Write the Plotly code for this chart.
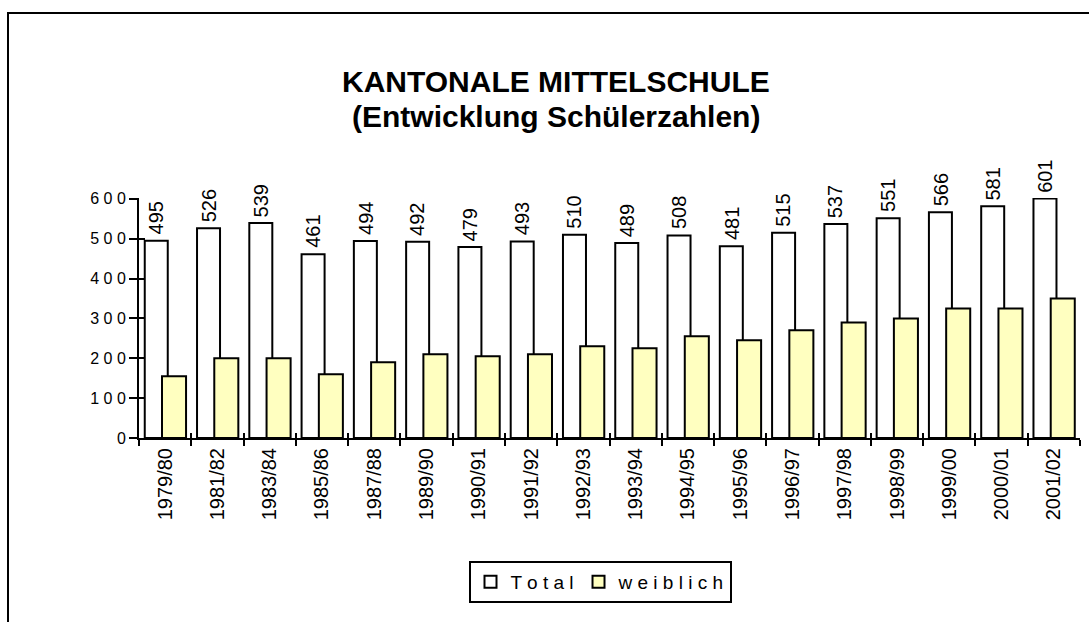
import plotly.graph_objects as go

categories = ["1979/80", "1981/82", "1983/84", "1985/86", "1987/88", "1989/90",
              "1990/91", "1991/92", "1992/93", "1993/94", "1994/95", "1995/96",
              "1996/97", "1997/98", "1998/99", "1999/00", "2000/01", "2001/02"]
total = [495, 526, 539, 461, 494, 492, 479, 493, 510, 489, 508, 481, 515, 537, 551, 566, 581, 601]
weiblich = [155, 200, 200, 160, 190, 210, 205, 210, 230, 225, 255, 245, 270, 290, 300, 325, 325, 350]
y_ticks = [0, 100, 200, 300, 400, 500, 600]
y_ticktext = ["0", "1 0 0", "2 0 0", "3 0 0", "4 0 0", "5 0 0", "6 0 0"]

W, H = 1089, 622
L, R, T, B = 139, 1080, 198, 438
FONT = "Liberation Sans, Arial, sans-serif"
n = len(categories)
cat_px = (R - L) / n
Y_MAX = 602

TOT_OFF, TOT_W = -0.39, 0.44
WEI_OFF, WEI_W = -0.06, 0.46

fig = go.Figure()
fig.add_trace(go.Bar(
    x=categories, y=total, name="T o t a l",
    marker=dict(color="white", line=dict(color="black", width=2)),
    offset=TOT_OFF, width=TOT_W, cliponaxis=False,
))
fig.add_trace(go.Bar(
    x=categories, y=weiblich, name="w e i b l i c h",
    marker=dict(color="#FFFFC0", line=dict(color="black", width=2)),
    offset=WEI_OFF, width=WEI_W,
))

def px_x(p):
    return (p - L) / (R - L)

def px_y(p):
    return (B - p) / (B - T)

value_labels = [
    dict(text=str(v), x=c, y=v, xref="x", yref="y", showarrow=False,
         textangle=-90, xanchor="center", yanchor="bottom",
         xshift=(TOT_OFF + TOT_W / 2) * cat_px, yshift=4,
         font=dict(family=FONT, size=20, color="black"))
    for c, v in zip(categories, total)
]

fig.update_layout(
    width=W, height=H,
    margin=dict(l=L, r=W - R, t=T, b=H - B, pad=0),
    paper_bgcolor="white", plot_bgcolor="white",
    barmode="overlay",
    font=dict(family=FONT, size=15, color="black"),
    showlegend=True,
    legend=dict(
        orientation="h", x=px_x(600), y=px_y(582), xanchor="center", yanchor="middle",
        bordercolor="black", borderwidth=2, bgcolor="white",
        font=dict(family=FONT, size=19, color="black"),
        itemwidth=30, traceorder="normal",
    ),
    xaxis=dict(
        type="category", showline=True, linecolor="black", linewidth=2,
        ticks="outside", ticklen=6, tickwidth=1.5, tickcolor="black",
        tickson="boundaries", tickangle=-90,
        tickfont=dict(family=FONT, size=20, color="black"),
        showgrid=False, zeroline=False, range=[-0.5, n - 0.5],
    ),
    xaxis2=dict(
        overlaying="x", anchor="y", side="bottom", range=[-0.5, n - 0.5],
        tickmode="array", tickvals=[i - 0.5 for i in range(n + 1)],
        ticks="inside", ticklen=5, tickwidth=1.5, tickcolor="black",
        showticklabels=False, showgrid=False, zeroline=False, showline=False,
    ),
    yaxis=dict(
        range=[0, Y_MAX], tickmode="array", tickvals=y_ticks, ticktext=y_ticktext,
        showline=True, linecolor="black", linewidth=2,
        ticks="outside", ticklen=8, tickwidth=1.5, tickcolor="black",
        tickfont=dict(family=FONT, size=16, color="black"),
        showgrid=False, zeroline=False,
    ),
    yaxis2=dict(
        overlaying="y", anchor="x", side="left", range=[0, Y_MAX],
        tickmode="array", tickvals=y_ticks,
        ticks="inside", ticklen=6, tickwidth=1.5, tickcolor="black",
        showticklabels=False, showgrid=False, zeroline=False, showline=False,
    ),
    annotations=value_labels + [
        dict(text="<b>KANTONALE MITTELSCHULE</b>", x=px_x(556), y=px_y(63),
             xref="paper", yref="paper", showarrow=False,
             font=dict(family=FONT, size=30, color="black")),
        dict(text="<b>(Entwicklung Schülerzahlen)</b>", x=px_x(556), y=px_y(98),
             xref="paper", yref="paper", showarrow=False,
             font=dict(family=FONT, size=30, color="black")),
    ],
    shapes=[
        dict(type="rect", xref="paper", yref="paper",
             x0=px_x(8), x1=px_x(1100), y0=px_y(13), y1=px_y(640),
             line=dict(color="black", width=2), fillcolor="rgba(0,0,0,0)", layer="below"),
    ],
)

# invisible trace so the overlay axes are drawn
fig.add_trace(go.Scatter(x=[None], y=[None], xaxis="x2", yaxis="y2",
                         showlegend=False, hoverinfo="skip"))

fig.write_html("out.html", config={"displayModeBar": False},
               post_script="document.body.style.margin='0';")
